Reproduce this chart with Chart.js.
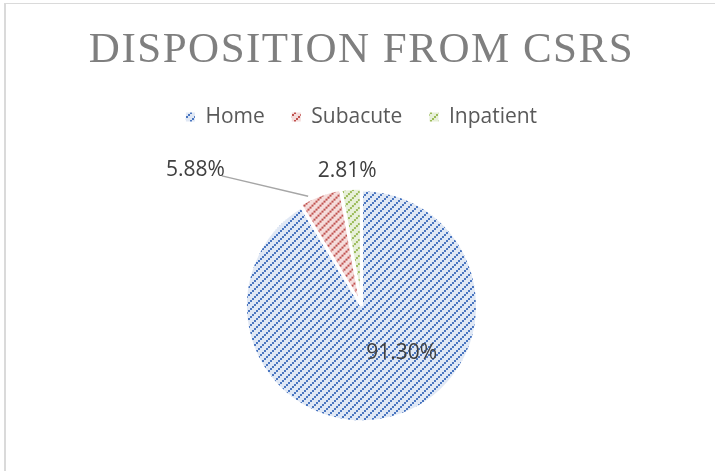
<!DOCTYPE html>
<html>
<head>
<meta charset="utf-8">
<script src="https://cdn.jsdelivr.net/npm/chart.js@4/dist/chart.umd.min.js"></script>
<style>
  html, body { margin: 0; padding: 0; background: #fff; overflow: hidden; }
  #frame { position: absolute; left: 4px; top: 3px; width: 709px; height: 468px; border-left: 2px solid #dadada; border-top: 1px solid #dadada; }
  #chart { position: absolute; left: 0; top: 0; }
</style>
</head>
<body>
<div id="frame"></div>
<canvas id="chart" width="715" height="480"></canvas>
<script>
// data
const categories = ["Home", "Subacute", "Inpatient"];
const shares = [91.30, 5.88, 2.81];

// hatch colours per slice: [background, stripe]
const hatchColors = [
    ["#e0e8f5", "#4a76c0"],
    ["#f5dcdb", "#c0504d"],
    ["#e8f0da", "#9bbb59"]
];

// where each percentage label sits, relative to its slice
const labelPlacement = [
    { shift: -24.7, dist: 0.535, leader: false },
    { shift: -30, dist: 1.85, leader: true },
    { shift: -1, dist: 1.17, leader: false }
];

function makeHatch(bg, fg) {
    const size = 8;
    const tile = document.createElement("canvas");
    tile.width = size;
    tile.height = size;
    const tctx = tile.getContext("2d");
    tctx.fillStyle = bg;
    tctx.fillRect(0, 0, size, size);
    tctx.fillStyle = fg;
    // wide upward diagonal, drawn as a staircase of 2x2 blocks
    for (let bx = 0; bx < size / 2; bx++) {
        for (let by = 0; by < size / 2; by++) {
            if ((bx + by) % 4 === 3) {
                tctx.fillRect(bx * 2, by * 2, 2, 2);
            }
        }
    }
    return document.getElementById("chart").getContext("2d").createPattern(tile, "repeat");
}

const patterns = hatchColors.map(c => makeHatch(c[0], c[1]));

// the built-in title has no letter spacing, so wrap its draw
const titleSpacing = {
    id: "titleSpacing",
    afterInit(chart) {
        const t = chart.titleBlock;
        const orig = t.draw.bind(t);
        t.draw = function () {
            chart.ctx.save();
            chart.ctx.letterSpacing = "1.5px";
            orig();
            chart.ctx.restore();
        };
    }
};

const sliceLabels = {
    id: "sliceLabels",
    afterDatasetsDraw(chart) {
        const ctx = chart.ctx;
        const arcs = chart.getDatasetMeta(0).data;
        ctx.save();
        ctx.font = '21px "Open Sans"';
        ctx.fillStyle = "#404040";
        ctx.textAlign = "center";
        ctx.textBaseline = "middle";
        arcs.forEach((arc, i) => {
            const p = arc.getProps(["x", "y", "startAngle", "endAngle", "outerRadius"]);
            const place = labelPlacement[i];
            const text = shares[i].toFixed(2) + "%";
            const a = (p.startAngle + p.endAngle) / 2 + place.shift * Math.PI / 180;
            const lx = p.x + Math.cos(a) * p.outerRadius * place.dist;
            const ly = p.y + Math.sin(a) * p.outerRadius * place.dist;
            if (place.leader) {
                const w = ctx.measureText(text).width;
                const ta = p.startAngle + (p.endAngle - p.startAngle) * 0.25;
                ctx.strokeStyle = "#a6a6a6";
                ctx.lineWidth = 1.5;
                ctx.beginPath();
                ctx.moveTo(lx + w / 2 - 3, ly + 6);
                ctx.lineTo(p.x + Math.cos(ta) * p.outerRadius * 1.05, p.y + Math.sin(ta) * p.outerRadius * 1.05);
                ctx.stroke();
            }
            ctx.fillText(text, lx, ly);
        });
        ctx.restore();
    }
};

new Chart(document.getElementById("chart"), {
    type: "pie",
    data: {
        labels: categories,
        datasets: [{
            data: shares,
            backgroundColor: patterns,
            borderColor: "#ffffff",
            borderWidth: 3,
            offset: [0, 6, 4],
            radius: 116
        }]
    },
    options: {
        responsive: false,
        animation: false,
        devicePixelRatio: 1,
        layout: { padding: { left: 8, right: 0, top: 0, bottom: 6 } },
        plugins: {
            tooltip: { enabled: false },
            title: {
                display: true,
                text: "DISPOSITION FROM CSRS",
                color: "#7f7f7f",
                font: { family: "Liberation Serif", size: 43, weight: "normal" },
                padding: { top: 25, bottom: 3 }
            },
            legend: {
                position: "top",
                labels: {
                    boxWidth: 9,
                    boxHeight: 9,
                    padding: 27,
                    color: "#595959",
                    font: { family: "Open Sans", size: 21 },
                    generateLabels(chart) {
                        const items = Chart.overrides.pie.plugins.legend.labels.generateLabels(chart);
                        return items.map(it => Object.assign(it, { lineWidth: 0, strokeStyle: "rgba(0,0,0,0)" }));
                    }
                }
            }
        }
    },
    plugins: [titleSpacing, sliceLabels]
});
</script>
</body>
</html>
